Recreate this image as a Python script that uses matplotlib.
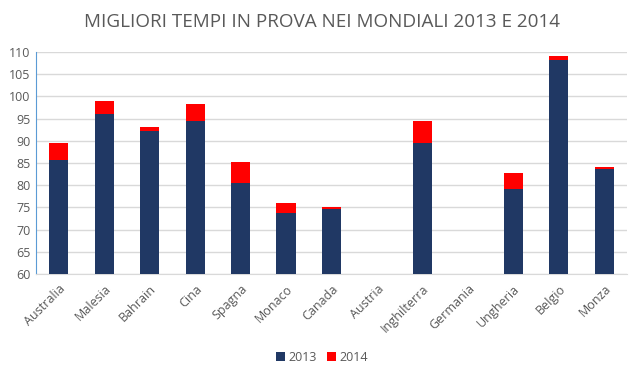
import numpy as np
import matplotlib.pyplot as plt

# Dati: tempi 2013 e tempi 2014 (il segmento rosso va dal 2013 al 2014)
gare = ['Australia', 'Malesia', 'Bahrain', 'Cina', 'Spagna', 'Monaco', 'Canada',
        'Austria', 'Inghilterra', 'Germania', 'Ungheria', 'Belgio', 'Monza']
tempi_2013 = [85.7, 96.1, 92.3, 94.4, 80.5, 73.8, 74.7, np.nan, 89.5, np.nan, 79.2, 108.1, 83.7]
tempi_2014 = [89.5, 99.0, 93.2, 98.3, 85.3, 76.0, 75.1, np.nan, 94.5, np.nan, 82.8, 109.2, 84.1]

blu = '#203864'
rosso = '#FF0000'
grigio = '#595959'

plt.rcParams['font.family'] = ['Open Sans', 'DejaVu Sans']

fig = plt.figure(figsize=(6.44, 3.75), dpi=100)
ax = fig.add_axes([36 / 644, 1 - 274 / 375, 591 / 644, 222 / 375])

x = np.arange(len(gare))
base = 60
h2013 = np.array(tempi_2013) - base
h2014 = np.array(tempi_2014) - np.array(tempi_2013)

ax.bar(x, h2013, width=0.42, bottom=base, color=blu, label='2013', zorder=3)
ax.bar(x, h2014, width=0.42, bottom=tempi_2013, color=rosso, label='2014', zorder=3)

ax.set_ylim(60, 110)
ax.set_xlim(-0.5, len(gare) - 0.5)
ax.set_yticks(range(60, 111, 5))
ax.yaxis.grid(True, color='#D9D9D9', linewidth=1, zorder=0)
ax.set_xticks(x)
ax.set_xticklabels(gare, rotation=45, ha='right', rotation_mode='anchor')
ax.tick_params(axis='both', length=0, labelsize=9, labelcolor=grigio, pad=4)
ax.tick_params(axis='x', pad=6)

for s in ['top', 'right']:
    ax.spines[s].set_visible(False)
ax.spines['left'].set_color('#5B9BD5')
ax.spines['bottom'].set_color('#D9D9D9')

fig.suptitle('MIGLIORI TEMPI IN PROVA NEI MONDIALI 2013 E 2014', x=0.5, y=0.965,
             fontsize=13.6, color=grigio)

fig.legend(loc='lower center', ncol=2, frameon=False, fontsize=9, labelcolor=grigio,
           bbox_to_anchor=(0.5, 0.0), handlelength=0.7, handleheight=0.7,
           handletextpad=0.3, columnspacing=0.8)

fig.savefig('out.png', dpi=100)
